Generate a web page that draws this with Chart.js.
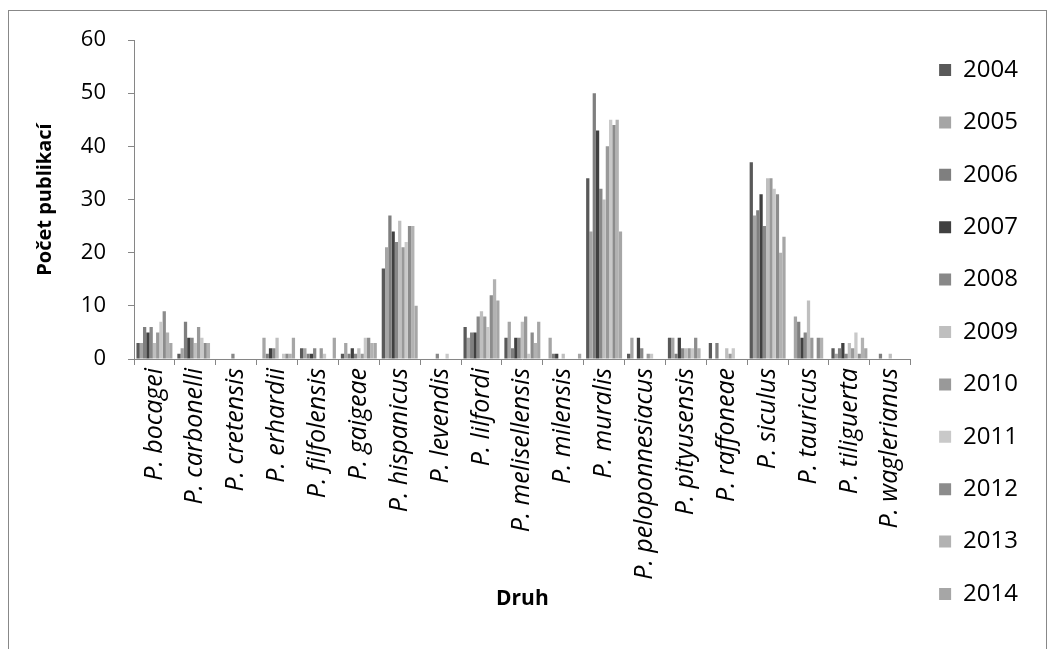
<!DOCTYPE html>
<html>
<head>
<meta charset="utf-8">
<title>Počet publikací podle druhu</title>
<script src="https://cdn.jsdelivr.net/npm/chart.js@4.4.1/dist/chart.umd.min.js"></script>
<style>
  body { margin: 0; background: #fff; }
  #frame { position: absolute; left: 8px; top: 10px; width: 1037px; height: 700px; border: 1px solid #888; }
  #chart { position: absolute; left: 0; top: 0; }
</style>
</head>
<body>
<div id="frame"></div>
<canvas id="chart" width="1055" height="649"></canvas>
<script>
// species on the x axis
const species = ['P. bocagei', 'P. carbonelli', 'P. cretensis', 'P. erhardii', 'P. filfolensis',
  'P. gaigeae', 'P. hispanicus', 'P. levendis', 'P. lilfordi', 'P. melisellensis', 'P. milensis',
  'P. muralis', 'P. peloponnesiacus', 'P. pityusensis', 'P. raffoneae', 'P. siculus',
  'P. tauricus', 'P. tiliguerta', 'P. waglerianus'];

const years = ['2004', '2005', '2006', '2007', '2008', '2009', '2010', '2011', '2012', '2013', '2014'];

// number of publications per species, one array per year
const y2004 = [3, 1, 0, 0, 2, 1, 17, 0, 6, 4, 0, 34, 1, 4, 3, 37, 0, 2, 0];
const y2005 = [3, 2, 0, 4, 2, 3, 21, 0, 4, 7, 4, 24, 4, 4, 0, 27, 8, 1, 0];
const y2006 = [6, 7, 0, 1, 1, 1, 27, 0, 5, 2, 1, 50, 0, 1, 3, 28, 7, 2, 1];
const y2007 = [5, 4, 0, 2, 1, 2, 24, 0, 5, 4, 1, 43, 4, 4, 0, 31, 4, 3, 0];
const y2008 = [6, 4, 1, 2, 2, 1, 22, 1, 8, 4, 0, 32, 2, 2, 0, 25, 5, 1, 0];
const y2009 = [3, 3, 0, 4, 0, 2, 26, 0, 9, 7, 1, 30, 0, 2, 2, 34, 11, 3, 1];
const y2010 = [5, 6, 0, 0, 2, 1, 21, 0, 8, 8, 0, 40, 1, 2, 1, 34, 4, 2, 0];
const y2011 = [7, 4, 0, 1, 1, 4, 22, 1, 6, 1, 0, 45, 1, 2, 2, 32, 0, 5, 0];
const y2012 = [9, 3, 0, 1, 0, 4, 25, 0, 12, 5, 0, 44, 0, 4, 0, 31, 4, 1, 0];
const y2013 = [5, 3, 0, 1, 0, 3, 25, 0, 15, 3, 0, 45, 0, 2, 0, 20, 4, 4, 0];
const y2014 = [3, 0, 0, 4, 4, 3, 10, 0, 11, 7, 1, 24, 0, 0, 0, 23, 0, 2, 0];

const yTicks = [0, 10, 20, 30, 40, 50, 60];

const seriesValues = [y2004, y2005, y2006, y2007, y2008, y2009, y2010, y2011, y2012, y2013, y2014];
const greys = ['#595959', '#a5a5a5', '#7f7f7f', '#404040', '#888888', '#bfbfbf',
  '#999999', '#c9c9c9', '#8c8c8c', '#b2b2b2', '#a6a6a6'];

const axisGrey = '#868686';
Chart.defaults.font.family = "'Open Sans', sans-serif";
Chart.defaults.color = '#000';

const datasets = years.map(function (year, i) {
  return {
    label: year,
    data: seriesValues[i],
    backgroundColor: greys[i],
    borderWidth: 0,
    categoryPercentage: 0.88,
    barPercentage: 1.0
  };
});

new Chart(document.getElementById('chart'), {
  type: 'bar',
  data: { labels: species, datasets: datasets },
  options: {
    responsive: false,
    animation: false,
    layout: { padding: { left: 10, right: 27, top: 25, bottom: 10 } },
    plugins: {
      // empty title only pushes the plot area down, the legend keeps full height
      title: { display: true, text: '', fullSize: false, font: { size: 10, lineHeight: 1 }, padding: { top: 5, bottom: 0 } },
      tooltip: { enabled: false },
      legend: {
        position: 'right',
        labels: { boxWidth: 12, boxHeight: 12, padding: 28.4, font: { size: 24 } }
      }
    },
    scales: {
      x: {
        grid: { display: true, drawOnChartArea: false, drawTicks: true, tickLength: 6, offset: true, color: axisGrey },
        border: { display: true, color: axisGrey },
        ticks: { autoSkip: false, minRotation: 90, maxRotation: 90, padding: 3, font: { size: 25, style: 'italic' } },
        title: { display: true, text: 'Druh', font: { size: 21, weight: 'bold' }, padding: { top: 0, bottom: 27 } },
        afterFit: function (scale) { scale.height = 280; }
      },
      y: {
        min: 0,
        max: 60,
        afterBuildTicks: function (scale) { scale.ticks = yTicks.map(function (v) { return { value: v }; }); },
        grid: { display: true, drawOnChartArea: false, drawTicks: true, tickLength: 6, color: axisGrey },
        border: { display: true, color: axisGrey },
        ticks: { padding: 22, font: { size: 22 } },
        title: { display: true, text: 'Počet publikací', font: { size: 20, weight: 'bold' }, padding: { top: 23, bottom: 0 } },
        afterFit: function (scale) { scale.width = 124; }
      }
    }
  }
});
</script>
</body>
</html>
